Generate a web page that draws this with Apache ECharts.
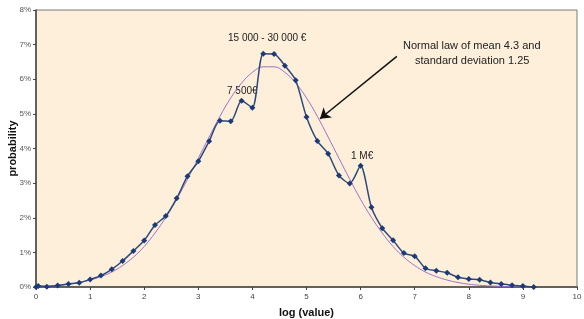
<!DOCTYPE html>
<html style="height: 100%">

<head>
    <meta charset="utf-8">
</head>

<body style="height: 100%; margin: 0; background: #fff">
    <div id="container" style="width: 584px; height: 319px"></div>
    <script src="https://cdn.jsdelivr.net/npm/echarts@6/dist/echarts.min.js"></script>
    <script type="text/javascript">
        // observed distribution, log (value) vs probability (%)
        var logValue = [0, 0.04, 0.2, 0.4, 0.6, 0.8, 1.0, 1.2, 1.4, 1.6, 1.8, 2.0, 2.2, 2.4, 2.6, 2.8, 3.0,
            3.2, 3.4, 3.6, 3.8, 4.0, 4.2, 4.4, 4.6, 4.8, 5.0, 5.2, 5.4, 5.6, 5.8, 6.0, 6.2, 6.4, 6.6, 6.8,
            7.0, 7.2, 7.4, 7.6, 7.8, 8.0, 8.2, 8.4, 8.6, 8.8, 9.0, 9.2];
        var probability = [0, 0.03, 0.01, 0.04, 0.09, 0.12, 0.22, 0.33, 0.51, 0.75, 1.04, 1.34, 1.79, 2.05,
            2.56, 3.2, 3.63, 4.21, 4.8, 4.79, 5.38, 5.18, 6.74, 6.73, 6.39, 5.97, 4.91, 4.22, 3.85, 3.22,
            2.99, 3.5, 2.3, 1.7, 1.35, 0.98, 0.89, 0.54, 0.47, 0.41, 0.28, 0.23, 0.21, 0.13, 0.09, 0.05,
            0.03, 0];

        // normal law curve
        var normalX = [0, 0.2, 0.4, 0.6, 0.8, 1.0, 1.2, 1.4, 1.6, 1.8, 2.0, 2.2, 2.4, 2.6, 2.8, 3.0, 3.2,
            3.4, 3.6, 3.8, 4.0, 4.2, 4.4, 4.6, 4.8, 5.0, 5.2, 5.4, 5.6, 5.8, 6.0, 6.2, 6.4, 6.6, 6.8, 7.0,
            7.2, 7.4, 7.6, 7.8, 8.0, 8.2, 8.4, 8.6, 8.8, 9.0, 9.2];
        var normalY = [0.02, 0.03, 0.05, 0.08, 0.13, 0.2, 0.3, 0.43, 0.62, 0.86, 1.17, 1.56, 2.01, 2.53,
            3.11, 3.72, 4.33, 4.93, 5.46, 5.89, 6.2, 6.36, 6.36, 6.2, 5.89, 5.46, 4.93, 4.33, 3.72, 3.11,
            2.53, 2.01, 1.56, 1.17, 0.86, 0.62, 0.43, 0.3, 0.2, 0.13, 0.08, 0.05, 0.03, 0.02, 0.01, 0.01,
            0];

        var xTicks = [0, 10];
        var yTicks = [0, 8];

        var observed = logValue.map(function(d, i) { return [d, probability[i]]; });
        var normal = normalX.map(function(d, i) { return [d, normalY[i]]; });

        var font = 'Liberation Sans, Arial, sans-serif';
        var dom = document.getElementById("container");
        var myChart = echarts.init(dom, null, { renderer: 'canvas' });

        var option = {
            animation: false,
            backgroundColor: '#ffffff',
            grid: {
                left: 36,
                right: 7,
                top: 10,
                bottom: 32,
                outerBoundsMode: 'none',
                containLabel: false,
                show: true,
                backgroundColor: '#fdefd9',
                borderColor: '#7a7a7a',
                borderWidth: 1
            },
            xAxis: {
                type: 'value',
                min: xTicks[0],
                max: xTicks[1],
                interval: 1,
                name: 'log (value)',
                nameLocation: 'middle',
                nameGap: 20,
                nameMoveOverlap: false,
                nameTextStyle: { fontFamily: font, fontSize: 11, fontWeight: 'bold', color: '#111' },
                axisLine: { lineStyle: { color: '#444', width: 1.5 } },
                axisTick: { show: true, inside: false, length: 3, lineStyle: { color: '#444' } },
                axisLabel: { fontFamily: font, fontSize: 8, color: '#444', margin: 6 },
                splitLine: { show: false }
            },
            yAxis: {
                type: 'value',
                min: yTicks[0],
                max: yTicks[1],
                interval: 1,
                name: 'probability',
                nameLocation: 'middle',
                nameGap: 18,
                nameMoveOverlap: false,
                nameTextStyle: { fontFamily: font, fontSize: 11, fontWeight: 'bold', color: '#111' },
                axisLine: { show: true, lineStyle: { color: '#444', width: 1.5 } },
                axisTick: { show: true, inside: false, length: 3, lineStyle: { color: '#444' } },
                axisLabel: { fontFamily: font, fontSize: 8, color: '#555', margin: 5, formatter: '{value}%' },
                splitLine: { show: false }
            },
            series: [{
                    type: 'line',
                    data: normal,
                    smooth: 0.4,
                    showSymbol: false,
                    lineStyle: { color: '#a070c8', width: 1 },
                    z: 2
                },
                {
                    type: 'line',
                    data: observed,
                    smooth: 0.25,
                    symbol: 'diamond',
                    symbolSize: 6,
                    itemStyle: { color: '#1d3a78' },
                    lineStyle: { color: '#2b4a7c', width: 1.5 },
                    z: 3,
                    markLine: {
                        silent: true,
                        symbol: ['none', 'arrow'],
                        symbolSize: 10,
                        label: { show: false },
                        lineStyle: { color: '#111', width: 1.5, type: 'solid' },
                        data: [
                            [{ coord: [6.67, 6.66] }, { coord: [5.25, 4.86] }]
                        ]
                    }
                }
            ],
            graphic: [{
                    type: 'text',
                    left: 228,
                    top: 33,
                    style: { text: '15 000 - 30 000 €', font: '10px ' + font, fill: '#222' }
                },
                {
                    type: 'text',
                    left: 227,
                    top: 86,
                    style: { text: '7 500€', font: '10px ' + font, fill: '#222' }
                },
                {
                    type: 'text',
                    left: 351,
                    top: 151,
                    style: { text: '1 M€', font: '10px ' + font, fill: '#222' }
                },
                {
                    type: 'text',
                    left: 403,
                    top: 40,
                    style: { text: 'Normal law of mean 4.3 and', font: '11px ' + font, fill: '#222' }
                },
                {
                    type: 'text',
                    left: 415,
                    top: 55,
                    style: { text: 'standard deviation 1.25', font: '11px ' + font, fill: '#222' }
                }
            ]
        };

        myChart.setOption(option);
    </script>
</body>

</html>
